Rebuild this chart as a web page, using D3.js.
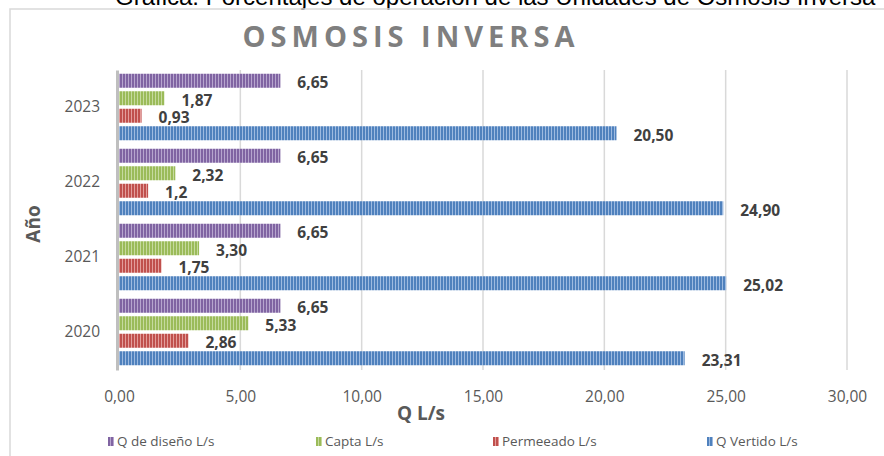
<!DOCTYPE html>
<html lang="es">
<head>
<meta charset="UTF-8">
<title>Osmosis Inversa</title>
<script src="https://cdn.jsdelivr.net/npm/d3@7"></script>
<style>
  body { margin:0; background:#fff; }
  text { font-family: 'Open Sans', sans-serif; }
  .tick-lbl { font-size:15.5px; fill:#595959; }
  .val { font-size:15.5px; font-weight:bold; fill:#404040; }
  .leg { font-size:13.5px; fill:#595959; }
</style>
</head>
<body>
<script>

// data (labels kept as printed)
var years = ["2020", "2021", "2022", "2023"];
var series = ["Q de diseño L/s", "Capta L/s", "Permeeado L/s", "Q Vertido L/s"];
var diseno    = ["6,65", "6,65", "6,65", "6,65"];
var capta     = ["5,33", "3,30", "2,32", "1,87"];
var permeeado = ["2,86", "1,75", "1,2", "0,93"];
var vertido   = ["23,31", "25,02", "24,90", "20,50"];
var xTicks = [0, 5, 10, 15, 20, 25, 30];
var colors = ["#8064A2", "#9BBB59", "#C0504D", "#4F81BD"];
var stripes = ["#B7A5CE", "#C6DA9E", "#E39D9B", "#9DBAE0"];

var width = 884, height = 456;
var plot = {left:119, right:847, top:70, bottom:370};

var svg = d3.select("body").append("svg").attr("width", width).attr("height", height);

// striped fills
var defs = svg.append("defs");
colors.forEach(function(c, i) {
  var p = defs.append("pattern").attr("id", "pat" + i)
    .attr("patternUnits", "userSpaceOnUse").attr("width", 3).attr("height", 10);
  p.append("rect").attr("width", 3).attr("height", 10).attr("fill", c);
  p.append("rect").attr("x", 2).attr("width", 1).attr("height", 10).attr("fill", stripes[i]);
});

// clipped caption above the frame
svg.append("text").attr("x", 115).attr("y", 5)
  .style("font-family", "'Liberation Sans', Arial, sans-serif").style("font-size", "24px").attr("fill", "#000")
  .text("Grafica: Porcentajes de operación de las Unidades de Osmosis Inversa");

// frame
svg.append("path").attr("d", "M10," + height + "V9H" + width)
  .attr("fill", "none").attr("stroke", "#d9d9d9").attr("stroke-width", 1.5);

svg.append("text").attr("x", 411).attr("y", 47).attr("text-anchor", "middle")
  .style("font-size", "29px").style("font-weight", "bold").style("letter-spacing", "5px")
  .attr("fill", "#7f7f7f").text("OSMOSIS INVERSA");

var x = d3.scaleLinear().domain([0, 30]).range([plot.left, plot.right]);
var y0 = d3.scaleBand().domain(years.slice().reverse()).range([plot.top, plot.bottom]);
var y1 = d3.scaleBand().domain(series).range([2, y0.bandwidth() - 3]).paddingInner(0.2).paddingOuter(0.1);

// grid
svg.append("g").selectAll("line").data(xTicks.slice(1)).enter().append("line")
  .attr("x1", function(d){ return x(d); }).attr("x2", function(d){ return x(d); })
  .attr("y1", plot.top).attr("y2", plot.bottom)
  .attr("stroke", "#d9d9d9").attr("stroke-width", 1.5);

var fmt = function(d){ return d3.format(".2f")(d).replace(".", ","); };
var xAxis = svg.append("g").attr("transform", "translate(0," + plot.bottom + ")")
  .call(d3.axisBottom(x).tickValues(xTicks).tickFormat(fmt).tickSize(0).tickPadding(21));
xAxis.select(".domain").remove();
xAxis.selectAll("text").attr("class", "tick-lbl").attr("fill", null).attr("font-size", null).attr("font-family", null);

var yAxis = svg.append("g").attr("transform", "translate(" + (plot.left - 2) + ",0)")
  .call(d3.axisLeft(y0).tickSize(0).tickPadding(17));
yAxis.select(".domain").attr("stroke", "#bfbfbf").attr("stroke-width", 3);
yAxis.selectAll("text").attr("class", "tick-lbl").attr("fill", null).attr("font-size", null).attr("font-family", null);

svg.append("text").attr("transform", "translate(40,224) rotate(-90)").attr("text-anchor", "middle")
  .style("font-size", "19px").style("font-weight", "bold").attr("fill", "#595959").text("Año");
svg.append("text").attr("x", 421).attr("y", 420).attr("text-anchor", "middle")
  .style("font-size", "19px").style("font-weight", "bold").attr("fill", "#595959").text("Q L/s");

// bars
var sets = [diseno, capta, permeeado, vertido];
var rows = [];
years.forEach(function(yr, j) {
  series.forEach(function(s, i) {
    rows.push({year:yr, s:s, i:i, label:sets[i][j], v:+sets[i][j].replace(",", ".")});
  });
});

var g = svg.append("g");
g.selectAll("rect").data(rows).enter().append("rect")
  .attr("x", x(0)).attr("y", function(d){ return y0(d.year) + y1(d.s); })
  .attr("width", function(d){ return x(d.v) - x(0); }).attr("height", y1.bandwidth())
  .attr("fill", function(d){ return "url(#pat" + d.i + ")"; });

g.selectAll("text").data(rows).enter().append("text").attr("class", "val")
  .attr("x", function(d){ return x(d.v) + 17; })
  .attr("y", function(d){ return y0(d.year) + y1(d.s) + y1.bandwidth() / 2 + 2; })
  .attr("dy", "0.35em").text(function(d){ return d.label; });

// legend
var legX = [108, 316, 493, 707];
var leg = svg.append("g").selectAll("g").data(series).enter().append("g")
  .attr("transform", function(d, i){ return "translate(" + legX[i] + ",437)"; });
leg.append("rect").attr("width", 6).attr("height", 9)
  .attr("fill", function(d, i){ return "url(#pat" + i + ")"; });
leg.append("text").attr("class", "leg").attr("x", 9).attr("y", 9).text(function(d){ return d; });

</script>
</body>
</html>
